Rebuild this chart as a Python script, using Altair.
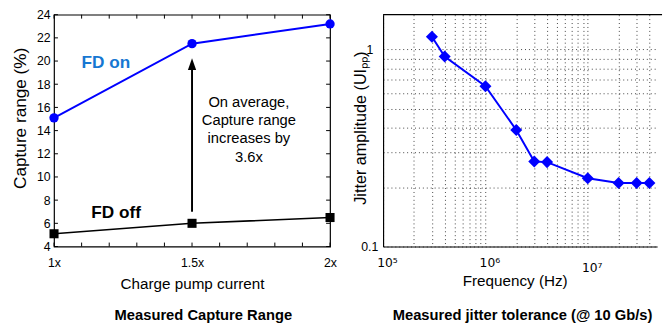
import altair as alt
import pandas as pd

FONT = "Liberation Sans"

# ---------------- Left panel data ----------------
current = [1.0, 1.5, 2.0]
fd_on = [15.1, 21.5, 23.2]
fd_off = [5.1, 6.0, 6.5]
x_ticks_left = [1.0, 1.1, 1.2, 1.3, 1.4, 1.5, 1.6, 1.7, 1.8, 1.9, 2.0]
y_ticks_left = [4, 6, 8, 10, 12, 14, 16, 18, 20, 22, 24]
arrow_x = 1.5
arrow_from = 7.0
arrow_to = 19.9
arrow_head = 19.73
note_lines = ["On average,", "Capture range", "increases by", "3.6x"]
note_y = [16.5, 14.9, 13.35, 11.75]
note_x = 1.706

# ---------------- Right panel data ----------------
freq = [3e5, 4e5, 1e6, 2e6, 3e6, 4e6, 1e7, 2e7, 3e7, 4e7]
jitter = [1.16, 0.92, 0.65, 0.39, 0.27, 0.268, 0.222, 0.21, 0.21, 0.21]
x_grid = [1e5, 2e5, 3e5, 4e5, 5e5, 6e5, 7e5, 8e5, 9e5,
          1e6, 2e6, 3e6, 4e6, 5e6, 6e6, 7e6, 8e6, 9e6,
          1e7, 2e7, 3e7, 4e7]
y_grid = [0.1, 0.2, 0.3, 0.4, 0.5, 0.6, 0.7, 0.8, 0.9, 1.0]

LW, LH = 281, 236
RW, RH = 279, 236

# ---------- Left chart ----------
df_left = pd.DataFrame({
    "current": current * 2,
    "range": fd_on + fd_off,
    "series": ["FD on"] * 3 + ["FD off"] * 3,
})
xs = alt.Scale(domain=[1, 2], nice=False, zero=False)
ys = alt.Scale(domain=[4, 24], nice=False, zero=False)

ax_x = alt.Axis(
    values=[1, 1.5, 2], labelExpr="datum.value == 1 ? '1x' : (datum.value == 2 ? '2x' : '1.5x')",
    ticks=False, domain=False, grid=False, labelPadding=10, labelFontSize=12.5,
    labelFont=FONT, labelColor="black", labelOverlap=False, labelFlush=False,
    title="Charge pump current", titleFont=FONT, titleFontSize=15.5, titleFontWeight="normal",
    titleX=LW / 2, titleY=43, titleBaseline="alphabetic", titleColor="black")
ax_y = alt.Axis(
    values=y_ticks_left, ticks=False, domain=False, grid=False, labelPadding=4,
    labelFontSize=12.5, labelFont=FONT, labelColor="black", labelOverlap=False,
    labelFlush=False,
    title="Capture range (%)", titleFont=FONT, titleFontSize=17.5, titleFontWeight="normal",
    titleX=-34, titleY=105, titleBaseline="middle", titleAlign="center", titleAngle=270,
    titleColor="black")


def X(f):
    return alt.X(f, scale=xs, axis=ax_x)


def Y(f):
    return alt.Y(f, scale=ys, axis=ax_y)


on_df = df_left[df_left.series == "FD on"]
off_df = df_left[df_left.series == "FD off"]

on_line = alt.Chart(on_df).mark_line(color="#0000ff", strokeWidth=2, point=alt.OverlayMarkDef(
    filled=True, color="#0000ff", size=90, shape="circle", opacity=1)).encode(
    x=X("current:Q"), y=Y("range:Q"))
off_line = alt.Chart(off_df).mark_line(color="black", strokeWidth=1.6, point=alt.OverlayMarkDef(
    filled=True, color="black", size=85, shape="square", opacity=1)).encode(
    x=X("current:Q"), y=Y("range:Q"))

arrow_df = pd.DataFrame({"x": [arrow_x], "y1": [arrow_from], "y2": [arrow_to], "yh": [arrow_head]})
arrow = alt.Chart(arrow_df).mark_rule(color="black", strokeWidth=2).encode(
    x=X("x:Q"), y=Y("y1:Q"), y2="y2:Q")
head = alt.Chart(arrow_df).mark_point(
    shape="M0,-1L0.7,1L-0.7,1Z", filled=True, color="black", size=144, opacity=1).encode(
    x=X("x:Q"), y=Y("yh:Q"))

lab_df = pd.DataFrame({"x": [1.188, 1.225], "y": [19.8, 6.85], "t": ["FD on", "FD off"],
                       "c": ["#1677d2", "black"]})
labels = alt.Chart(lab_df).mark_text(font=FONT, fontSize=17.5, fontWeight="bold",
                                     align="center", baseline="middle").encode(
    x=X("x:Q"), y=Y("y:Q"), text="t:N",
    color=alt.Color("c:N", scale=None))

note_df = pd.DataFrame({"x": [note_x] * 4, "y": note_y, "t": note_lines})
note = alt.Chart(note_df).mark_text(font=FONT, fontSize=15, align="center", baseline="middle",
                                    color="black").encode(
    x=X("x:Q"), y=Y("y:Q"), text="t:N")

tx_df = pd.DataFrame({"v": x_ticks_left})
ty_df = pd.DataFrame({"v": y_ticks_left})
tick_bottom = alt.Chart(tx_df).mark_rule(color="black", strokeWidth=1).encode(
    x=X("v:Q"), y=alt.value(LH), y2=alt.value(LH - 4))
tick_top = alt.Chart(tx_df).mark_rule(color="black", strokeWidth=1).encode(
    x=X("v:Q"), y=alt.value(0), y2=alt.value(4))
tick_left = alt.Chart(ty_df).mark_rule(color="black", strokeWidth=1).encode(
    y=Y("v:Q"), x=alt.value(0), x2=alt.value(4))
tick_right = alt.Chart(ty_df).mark_rule(color="black", strokeWidth=1).encode(
    y=Y("v:Q"), x=alt.value(LW), x2=alt.value(LW - 4))

title_left = ["Measured Capture Range"]
tl = alt.Chart(pd.DataFrame({"t": title_left})).mark_text(
    font=FONT, fontSize=15, fontWeight="bold", align="center", baseline="alphabetic",
    color="black").encode(x=alt.value(152), y=alt.value(310.5), text="t:N")

left = alt.layer(on_line, off_line, arrow, head, labels, note,
                 tick_bottom, tick_top, tick_left, tick_right, tl).properties(
    width=LW, height=LH)

# ---------- Right chart ----------
df_right = pd.DataFrame({"f": freq, "j": jitter})
rxs = alt.Scale(type="log", domain=[1e5, 10 ** (5 + RW / 104.2)], nice=False)
rys = alt.Scale(type="log", domain=[0.1, 1.5], nice=False)

lbl_x = ("abs(log(datum.value)/LN10 - 5) < 0.01 ? '10\u2075' : "
         "(abs(log(datum.value)/LN10 - 6) < 0.01 ? '10\u2076' : "
         "(abs(log(datum.value)/LN10 - 7) < 0.01 ? '10\u2077' : ''))")
lbl_y = ("abs(datum.value - 0.1) < 0.001 ? '0.1' : (abs(datum.value - 1) < 0.001 ? '1' : '')")

rx_enc = alt.X("f:Q", scale=rxs, axis=alt.Axis(
    values=x_grid, labelExpr=lbl_x, ticks=False, domain=True, domainColor="black",
    domainWidth=1.2, grid=True, gridColor="#000000", gridOpacity=0.75, gridDash=[1, 3],
    gridWidth=1, labelFont="DejaVu Sans", labelFontSize=12.5, labelColor="black", labelOffset=4,
    labelPadding={"condition": {"test": "datum.value > 5000000", "value": 15}, "value": 10},
    labelFlush=False, labelOverlap=False,
    title="Frequency (Hz)", titleFont=FONT, titleFontSize=15.5, titleFontWeight="normal",
    titleX=134, titleY=40, titleBaseline="alphabetic", titleColor="black"))
ry_enc = alt.Y("j:Q", scale=rys, axis=alt.Axis(
    values=y_grid, labelExpr=lbl_y, ticks=False, domain=True, domainColor="black",
    domainWidth=1.2, grid=True, gridColor="#000000", gridOpacity=0.75, gridDash=[1, 3],
    gridWidth=1, labelFont=FONT, labelFontSize=12.5, labelColor="black",
    labelAlign="center", labelPadding=14, labelOverlap=False, labelFlush=False,
    title="Jitter amplitude (UI\u209a\u209a)", titleFont=FONT, titleFontSize=16.5,
    titleFontWeight="normal", titleX=-22.6, titleY=115, titleBaseline="middle",
    titleAlign="center", titleAngle=270, titleColor="black"))

jt = alt.Chart(df_right).mark_line(color="#0000ff", strokeWidth=2, point=alt.OverlayMarkDef(
    filled=True, color="#0000ff", size=150, shape="diamond", opacity=1)).encode(
    x=rx_enc, y=ry_enc)

top_line = alt.Chart(pd.DataFrame({"t": [""]})).mark_rule(color="black", strokeWidth=1.2).encode(
    x=alt.value(0), x2=alt.value(RW + 5), y=alt.value(0))

title_right = ["Measured jitter tolerance (@ 10 Gb/s)"]
tr = alt.Chart(pd.DataFrame({"t": title_right})).mark_text(
    font=FONT, fontSize=15, fontWeight="bold", align="center", baseline="alphabetic",
    color="black").encode(x=alt.value(142), y=alt.value(310.5), text="t:N")

right = alt.layer(jt, top_line, tr).properties(
    width=RW, height=RH, view=alt.ViewBackground(stroke="transparent"))

chart = alt.hconcat(left, right, spacing=54, bounds="flush").properties(
    padding={"left": 11, "top": 5, "right": 0, "bottom": 0},
    background="white",
).configure_view(stroke="black", strokeWidth=1.2).configure_axis(labelFont=FONT, titleFont=FONT)

chart.save("out.html", embed_options={"renderer": "svg", "actions": False})
